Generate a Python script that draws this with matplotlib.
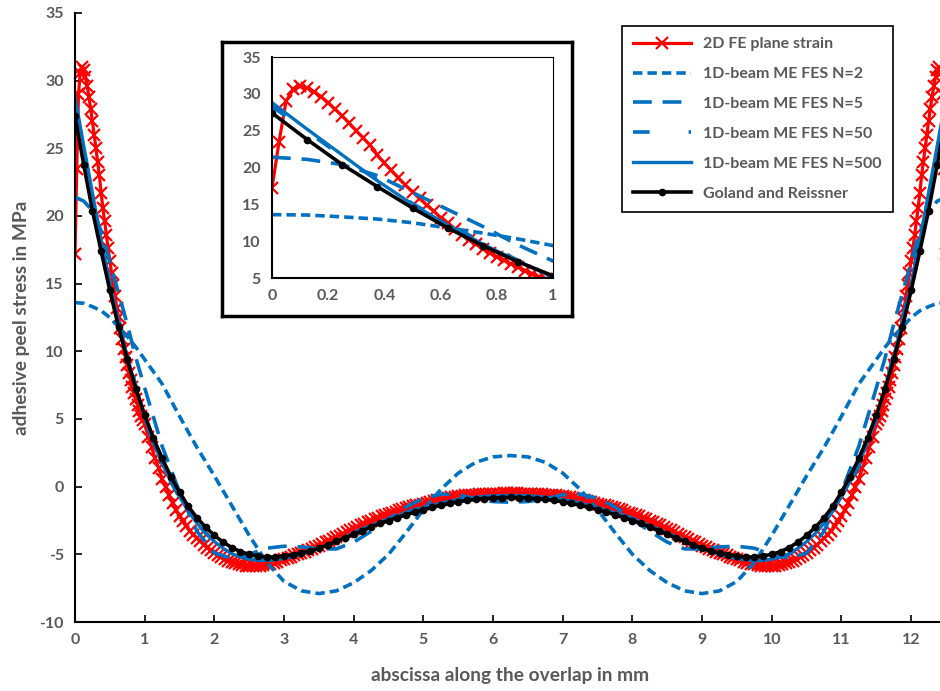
import matplotlib.pyplot as plt
from matplotlib import font_manager as fm
import numpy as np

bold_path = [f.fname for f in fm.fontManager.ttflist if f.fname.endswith('Lato-Bold.ttf')][0]
fm.fontManager.addfont(bold_path)
plt.rcParams['font.family'] = ['Lato', 'DejaVu Sans']
plt.rcParams['font.weight'] = 'bold'

L = 12.5  # overlap length, curves are symmetric about L/2

# 2D FE plane strain, left half: fine mesh (0.025) up to 1 mm, then 0.05 mm
fe_a = [17.2, 23.5, 29.0, 30.6, 31.0, 30.8, 30.3, 29.6, 28.8, 27.9,
        27.0, 26.0, 25.0, 24.0, 23.0, 21.7, 20.6, 19.6, 18.6, 17.6,
        16.7, 15.8, 14.9, 14.1, 13.2, 12.5, 11.7, 10.9, 10.2, 9.6,
        9.0, 8.4, 7.9, 7.4, 6.9, 6.5, 6.0, 5.6, 5.2, 4.9]
fe_b = [4.6, 3.7, 2.9, 2.1, 1.35, 0.6, -0.05, -0.65, -1.2, -1.7,
        -2.15, -2.55, -2.9, -3.25, -3.55, -3.8, -4.05, -4.3, -4.5, -4.7,
        -4.88, -5.05, -5.2, -5.35, -5.47, -5.58, -5.67, -5.74, -5.8, -5.84,
        -5.86, -5.87, -5.86, -5.83, -5.79, -5.74, -5.68, -5.61, -5.53, -5.45,
        -5.36, -5.27, -5.17, -5.07, -4.96, -4.88, -4.8, -4.7, -4.6, -4.48,
        -4.36, -4.24, -4.12, -4.0, -3.87, -3.74, -3.61, -3.48, -3.35, -3.22,
        -3.1, -2.98, -2.86, -2.74, -2.62, -2.5, -2.4, -2.3, -2.2, -2.1,
        -2.0, -1.92, -1.84, -1.76, -1.68, -1.6, -1.53, -1.46, -1.39, -1.32,
        -1.25, -1.19, -1.13, -1.07, -1.01, -0.95, -0.9, -0.85, -0.8, -0.75,
        -0.71, -0.68, -0.65, -0.62, -0.6, -0.58, -0.56, -0.55, -0.54, -0.53,
        -0.52, -0.51, -0.51, -0.5, -0.5, -0.5]

# 1D-beam ME FES, N=2 and N=5 (0.125 mm up to 1 mm, then 0.25 mm)
n2_half = [13.6, 13.55, 13.3, 13.0, 12.5, 11.8, 11.1, 10.3,
           9.4, 7.6, 5.2, 2.9, 0.8, -1.4, -3.6, -5.6, -7.0, -7.7, -7.9,
           -7.7, -7.1, -6.2, -5.0, -3.4, -1.7, -0.2, 1.0, 1.8, 2.2, 2.3]
n5_half = [21.4, 21.1, 20.4, 18.9, 16.6, 14.3, 12.0, 9.5,
           7.3, 3.0, -0.4, -3.3, -4.9, -5.3, -5.0, -4.55, -4.4, -4.45, -4.6,
           -4.6, -4.1, -3.3, -2.4, -1.5, -0.85, -0.55, -0.6, -0.9, -1.1, -1.15]

# N=50 every 0.25 mm
n50_half = [28.3, 21.5, 15.1, 9.8, 5.0, 1.5, -0.8, -2.7, -4.1, -5.0,
            -5.35, -5.4, -5.3, -5.0, -4.55, -4.0, -3.4, -2.85, -2.35, -1.9,
            -1.5, -1.2, -0.95, -0.8, -0.7, -0.67]

# N=500 and Goland & Reissner every 0.125 mm
n500_half = [28.8, 25.2, 21.7, 18.2, 15.0, 12.2, 9.6, 7.3, 5.1, 3.3,
             1.7, 0.4, -0.75, -1.8, -2.7, -3.45, -4.05, -4.55, -4.95, -5.2,
             -5.35, -5.45, -5.45, -5.4, -5.3, -5.17, -5.0, -4.8, -4.57, -4.3,
             -4.02, -3.73, -3.44, -3.15, -2.88, -2.62, -2.38, -2.15, -1.94, -1.74,
             -1.55, -1.38, -1.22, -1.08, -0.96, -0.86, -0.78, -0.72, -0.68, -0.66,
             -0.65]
gr_half = [27.4, 23.8, 20.4, 17.4, 14.5, 11.8, 9.4, 7.2, 5.3, 3.6,
           2.1, 0.75, -0.4, -1.45, -2.3, -3.0, -3.6, -4.1, -4.5, -4.8,
           -5.0, -5.12, -5.2, -5.2, -5.12, -5.03, -4.9, -4.75, -4.55, -4.3,
           -4.05, -3.8, -3.52, -3.25, -2.98, -2.72, -2.5, -2.28, -2.08, -1.88,
           -1.7, -1.53, -1.38, -1.24, -1.12, -1.02, -0.94, -0.88, -0.84, -0.81,
           -0.8]

labels = ['2D FE plane strain', '1D-beam ME FES N=2', '1D-beam ME FES N=5',
          '1D-beam ME FES N=50', '1D-beam ME FES N=500', 'Goland and Reissner']
xticks = list(range(0, 13))
yticks = list(range(-10, 36, 5))
inset_xticks = [0, 0.2, 0.4, 0.6, 0.8, 1]
inset_xlabels = ['0', '0.2', '0.4', '0.6', '0.8', '1']
inset_yticks = list(range(5, 36, 5))


def mirror(x, y):
    x = np.asarray(x, float)
    y = np.asarray(y, float)
    return np.concatenate([x, L - x[-2::-1]]), np.concatenate([y, y[-2::-1]])


x_fe = np.concatenate([np.arange(len(fe_a)) * 0.025, 1.0 + np.arange(len(fe_b)) * 0.05])
x_n = np.concatenate([np.arange(8) * 0.125, 1.0 + np.arange(len(n2_half) - 8) * 0.25])
x_q = np.arange(len(n50_half)) * 0.25
x_e = np.arange(len(gr_half)) * 0.125

blue = '#0070C0'
series = [
    (mirror(x_fe, fe_a + fe_b), dict(color='#FF0000', lw=2.3, marker='x', ms=8, mew=1.6)),
    (mirror(x_n, n2_half), dict(color=blue, lw=2.6, ls=(0, (2.6, 1.4)))),
    (mirror(x_n, n5_half), dict(color=blue, lw=2.6, ls=(0, (5.2, 3.0)))),
    (mirror(x_q, n50_half), dict(color=blue, lw=2.6, ls=(0, (4.6, 10.8)))),
    (mirror(x_e, n500_half), dict(color=blue, lw=2.4)),
    (mirror(x_e, gr_half), dict(color='black', lw=2.6, marker='o', ms=4.5)),
]

grey = '#595959'
fig = plt.figure(figsize=(9.4, 6.91), dpi=100)
ax = fig.add_axes([75 / 940, 69 / 691, 871 / 940, 609 / 691])
for ((xs, ys), kw), lab in zip(series, labels):
    ax.plot(xs, ys, label=lab, **kw)

ax.set_xlim(0, L)
ax.set_ylim(-10, 35)
ax.set_xticks(xticks, labels=[str(v) for v in xticks], fontweight='bold')
ax.set_yticks(yticks, labels=[str(v) for v in yticks], fontweight='bold')
for s in ['top', 'right']:
    ax.spines[s].set_visible(False)
for s in ['left', 'bottom']:
    ax.spines[s].set_linewidth(1.5)
ax.tick_params(direction='in', length=5, width=1.2, labelsize=11.5, labelcolor=grey, pad=8)
ax.set_xlabel('abscissa along the overlap in mm', fontsize=13.8, color=grey,
              labelpad=14, fontweight='bold')
ax.set_ylabel('adhesive peel stress in MPa', fontsize=13.8, color=grey,
              labelpad=7, fontweight='bold')

leg = fig.legend(loc='upper left', bbox_to_anchor=(622 / 940, 1 - 26 / 691), borderaxespad=0,
                 handlelength=3.6, numpoints=1, labelspacing=0.98,
                 prop={'size': 11.5, 'weight': 'bold'},
                 fancybox=False, edgecolor='black', framealpha=1, borderpad=0.7)
leg.get_frame().set_linewidth(1.2)
for t in leg.get_texts():
    t.set_color(grey)

# inset frame and zoom on the first millimetre
box = fig.add_axes([222 / 940, 1 - 316 / 691, 350 / 940, 274 / 691])
box.set_xticks([])
box.set_yticks([])
for s in box.spines.values():
    s.set_linewidth(2.5)

ins = fig.add_axes([272 / 940, 1 - 278 / 691, 281 / 940, 221 / 691])
for (xs, ys), kw in series:
    ins.plot(xs, ys, **kw)
ins.set_xlim(0, 1)
ins.set_ylim(5, 35)
ins.set_xticks(inset_xticks, labels=inset_xlabels, fontweight='bold')
ins.set_yticks(inset_yticks, labels=[str(v) for v in inset_yticks], fontweight='bold')
ins.tick_params(length=0, labelsize=11.5, labelcolor=grey, pad=8)
ins.spines['left'].set_linewidth(1.5)
ins.spines['bottom'].set_linewidth(1.5)
ins.spines['top'].set_linewidth(0.8)
ins.spines['right'].set_linewidth(0.8)

fig.savefig('out.png', dpi=100)
